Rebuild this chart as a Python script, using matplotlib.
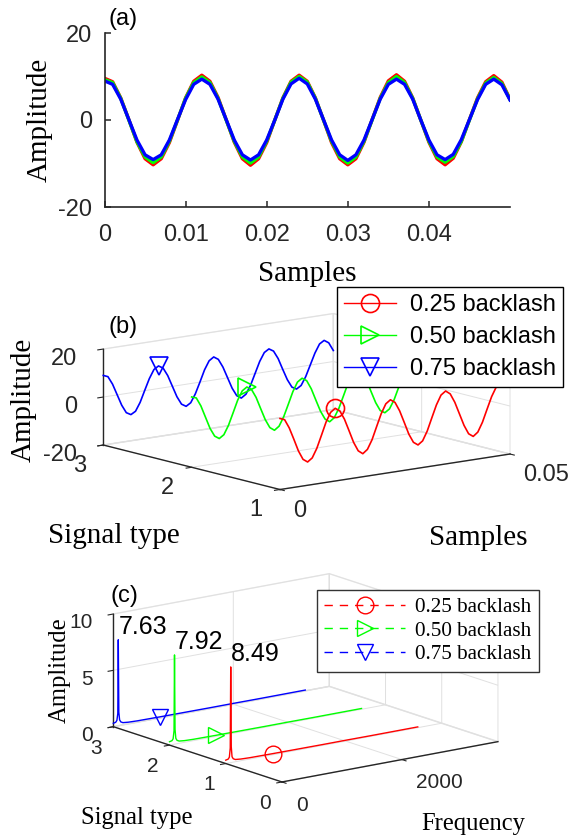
import matplotlib
matplotlib.use("Agg")
import matplotlib.pyplot as plt
from matplotlib.lines import Line2D

plt.rcParams['font.family'] = ['Liberation Sans', 'DejaVu Sans']
plt.rcParams['axes.unicode_minus'] = False

# ===== data =====
samples = [0.000, 0.001, 0.002, 0.003, 0.004, 0.005, 0.006, 0.007, 0.008, 0.009,
           0.010, 0.011, 0.012, 0.013, 0.014, 0.015, 0.016, 0.017, 0.018, 0.019,
           0.020, 0.021, 0.022, 0.023, 0.024, 0.025, 0.026, 0.027, 0.028, 0.029,
           0.030, 0.031, 0.032, 0.033, 0.034, 0.035, 0.036, 0.037, 0.038, 0.039,
           0.040, 0.041, 0.042, 0.043, 0.044, 0.045, 0.046, 0.047, 0.048, 0.049,
           0.050]

amp_025 = [9.6, 8.8, 5.1, 0.1, -5.1, -8.9, -10.3, -8.9, -5.2, -0.1,
           5.1, 8.9, 10.3, 8.9, 5.2, 0.1, -5.1, -8.9, -10.4, -8.9,
           -5.2, 0.0, 5.1, 8.9, 10.3, 8.9, 5.1, 0.0, -5.2, -8.9,
           -10.3, -8.9, -5.1, 0.1, 5.2, 9.0, 10.4, 8.9, 5.1, 0.0,
           -5.1, -8.9, -10.3, -8.8, -5.0, 0.1, 5.1, 8.8, 10.2, 8.7,
           4.8]
amp_050 = [9.3, 8.6, 5.0, 0.0, -5.0, -8.5, -9.8, -8.5, -4.9, 0.0,
           5.0, 8.6, 9.9, 8.6, 5.0, 0.0, -4.9, -8.5, -9.9, -8.5,
           -4.9, 0.0, 5.0, 8.7, 10.0, 8.7, 5.0, 0.0, -4.9, -8.5,
           -9.9, -8.5, -4.9, 0.0, 5.0, 8.6, 10.0, 8.6, 5.0, 0.0,
           -4.9, -8.5, -9.7, -8.4, -4.9, 0.0, 4.9, 8.5, 9.8, 8.4,
           4.7]
amp_075 = [9.0, 8.2, 4.8, 0.1, -4.6, -8.0, -9.1, -8.0, -4.6, 0.1,
           4.7, 8.2, 9.4, 8.2, 4.8, 0.1, -4.6, -8.0, -9.2, -8.0,
           -4.6, 0.0, 4.8, 8.3, 9.6, 8.3, 4.8, 0.1, -4.6, -8.0,
           -9.3, -8.0, -4.6, 0.1, 4.8, 8.2, 9.4, 8.2, 4.8, 0.0,
           -4.6, -8.0, -9.1, -7.9, -4.5, 0.1, 4.7, 8.2, 9.4, 8.1,
           4.6]

freq = [0, 40, 60, 75, 83, 92, 105, 125, 160, 250, 400, 780,
        1200, 1600, 2000, 2400, 2800, 3200]
spec_025 = [0.3, 0.35, 0.5, 1.3, 8.49, 1.4, 0.5, 0.3, 0.2, 0.15, 0.12, 0.1,
            0.09, 0.08, 0.08, 0.07, 0.07, 0.07]
spec_050 = [0.3, 0.35, 0.5, 1.2, 7.92, 1.3, 0.5, 0.3, 0.2, 0.15, 0.12, 0.1,
            0.09, 0.08, 0.08, 0.07, 0.07, 0.07]
spec_075 = [0.3, 0.35, 0.5, 1.1, 7.63, 1.2, 0.5, 0.3, 0.2, 0.15, 0.12, 0.1,
            0.09, 0.08, 0.08, 0.07, 0.07, 0.07]

signal_type = [1, 2, 3]
series = [amp_025, amp_050, amp_075]
spectra = [spec_025, spec_050, spec_075]
names = ['0.25 backlash', '0.50 backlash', '0.75 backlash']
colors = ['#ff0000', '#00ff00', '#0000ff']
markers = ['o', '>', 'v']
mark_idx = 12        # sample carrying the marker in (b)
mark_idx_f = 11      # frequency bin carrying the marker in (c)

W, H = 587, 838
fig = plt.figure(figsize=(W / 100, H / 100), dpi=100)
tick_col = '#262626'
serif = ['Liberation Serif', 'DejaVu Serif']


def px_rect(left, top, width, height):
    return [left / W, 1 - (top + height) / H, width / W, height / H]


def align_ticklabels(axis, ha):
    for tick in axis.get_major_ticks():
        tick.label1.set_horizontalalignment(ha)


# ===== (a) time signals =====
ax_a = fig.add_axes(px_rect(104.5, 33, 405.5, 174))
for y, c in zip(series, colors):
    ax_a.plot(samples, y, color=c, lw=2.4, solid_joinstyle='round')
ax_a.set_xlim(0, 0.05)
ax_a.set_ylim(-20, 20)
ax_a.set_xticks([0, 0.01, 0.02, 0.03, 0.04])
ax_a.set_xticklabels(['0', '0.01', '0.02', '0.03', '0.04'])
ax_a.set_yticks([-20, 0, 20])
for s in ['top', 'right']:
    ax_a.spines[s].set_visible(False)
for s in ['left', 'bottom']:
    ax_a.spines[s].set_linewidth(1.2)
    ax_a.spines[s].set_color(tick_col)
ax_a.tick_params(direction='in', length=4, width=1.1, labelsize=17,
                 colors=tick_col)
ax_a.tick_params(axis='x', pad=12)
ax_a.tick_params(axis='y', pad=9)
ax_a.set_xlabel('Samples', family=serif, fontsize=21, labelpad=11)
ax_a.set_ylabel('Amplitude', family=serif, fontsize=21, labelpad=4)
fig.text(123 / W, 1 - 19 / H, '(a)', fontsize=17, ha='center', va='center')


def style_3d(ax):
    ax.set_proj_type('ortho')
    ax.patch.set_alpha(0)
    for axis in (ax.xaxis, ax.yaxis, ax.zaxis):
        axis.pane.fill = False
        axis.pane.set_edgecolor('#d9d9d9')
        axis.line.set_color(tick_col)
        axis.line.set_linewidth(1.0)
        axis.offsetText.set_visible(False)
        axis.offsetText.set_transform(fig.transFigure)
        axis.offsetText.set_position((0.5, 0.5))
        axis.label.set_visible(False)
        axis._axinfo['grid'].update(color='#e0e0e0', linewidth=0.7)
        axis._axinfo['tick'].update(inward_factor=0.3, outward_factor=0.0)
    ax.tick_params(colors=tick_col)


# ===== (b) waterfall of the time signals =====
ax_b = fig.add_axes(px_rect(96.9, 838 - 226.7 - 408.5, 408.5, 408.5),
                    projection='3d', computed_zorder=False)
style_3d(ax_b)
ax_b.set_box_aspect((292.1, 286.6, 97.9))
ax_b.view_init(elev=11.37, azim=-128.06)
for k in (2, 1, 0):
    ys = [signal_type[k]] * len(samples)
    ax_b.plot(samples, ys, series[k], color=colors[k], lw=1.2)
    ax_b.plot([samples[mark_idx]], [signal_type[k]], [series[k][mark_idx]],
              ls='none', marker=markers[k], ms=13, mfc='none',
              mec=colors[k], mew=1.2)
ax_b.set_xlim(0, 0.05)
ax_b.set_ylim(1, 3)
ax_b.set_zlim(-20, 20)
ax_b.set_xticks([0, 0.05])
ax_b.set_xticklabels(['0', '0.05'])
ax_b.set_yticks([1, 2, 3])
ax_b.set_zticks([-20, 0, 20])
ax_b.tick_params(labelsize=17)
ax_b.xaxis.set_tick_params(pad=3)
ax_b.zaxis.set_tick_params(pad=2)
align_ticklabels(ax_b.xaxis, 'left')
align_ticklabels(ax_b.yaxis, 'right')
align_ticklabels(ax_b.zaxis, 'right')

handles_b = [Line2D([], [], color=c, lw=1.0, marker=m, ms=13, mfc='none',
                    mew=1.2) for c, m in zip(colors, markers)]
leg_b = ax_b.legend(handles_b, names, loc='upper left',
                    bbox_to_anchor=(337 / W, 1 - 287 / H),
                    bbox_transform=fig.transFigure, fontsize=17,
                    handlelength=2.2, handletextpad=0.6, borderpad=0.3,
                    labelspacing=0.42, borderaxespad=0, fancybox=False,
                    framealpha=1, edgecolor='black')
leg_b.get_frame().set_linewidth(1.0)

fig.text(123 / W, 1 - 327 / H, '(b)', fontsize=17, ha='center', va='center')
fig.text(24 / W, 1 - 400 / H, 'Amplitude', family=serif, fontsize=21,
         rotation=90, ha='center', va='center')
fig.text(114 / W, 1 - 536 / H, 'Signal type', family=serif, fontsize=21,
         ha='center', va='center')
fig.text(478 / W, 1 - 538 / H, 'Samples', family=serif, fontsize=21,
         ha='center', va='center')

# ===== (c) spectra =====
ax_c = fig.add_axes(px_rect(103.05, 838 + 42.4 - 394.5, 394.5, 394.5),
                    projection='3d', computed_zorder=False)
style_3d(ax_c)
ax_c.set_box_aspect((270.6, 280.0, 116.3))
ax_c.view_init(elev=14.32, azim=-127.04)
for k in (2, 1, 0):
    ys = [signal_type[k]] * len(freq)
    ax_c.plot(freq, ys, spectra[k], color=colors[k], lw=1.0)
    ax_c.plot([freq[mark_idx_f]], [signal_type[k]], [spectra[k][mark_idx_f]],
              ls='none', marker=markers[k], ms=12, mfc='none',
              mec=colors[k], mew=1.0)
for k in (2, 1, 0):
    peak = max(spectra[k])
    ax_c.text(freq[spectra[k].index(peak)], signal_type[k], peak + 0.1,
              f'{peak:.2f}', fontsize=18, ha='left', va='bottom')
ax_c.set_xlim(0, 3600)
ax_c.set_ylim(0, 3)
ax_c.set_zlim(0, 10)
ax_c.set_xticks([0, 2000])
ax_c.set_yticks([0, 1, 2, 3])
ax_c.set_zticks([0, 5, 10])
ax_c.tick_params(labelsize=15)
ax_c.xaxis.set_tick_params(pad=4)
ax_c.zaxis.set_tick_params(pad=0)
align_ticklabels(ax_c.xaxis, 'left')
align_ticklabels(ax_c.zaxis, 'right')

handles_c = [Line2D([], [], color=c, lw=1.0, ls=(0, (6, 5)), marker=m,
                    ms=12, mfc='none', mew=1.0)
             for c, m in zip(colors, markers)]
leg_c = ax_c.legend(handles_c, names, loc='upper left',
                    bbox_to_anchor=(317 / W, 1 - 590 / H),
                    bbox_transform=fig.transFigure,
                    prop={'family': serif, 'size': 15.2},
                    handlelength=3.8, handletextpad=0.5, borderpad=0.35,
                    labelspacing=0.18, borderaxespad=0, fancybox=False,
                    framealpha=1, edgecolor='#333333')
leg_c.get_frame().set_linewidth(1.0)

fig.text(124 / W, 1 - 596 / H, '(c)', fontsize=17, ha='center', va='center')
fig.text(60 / W, 1 - 670 / H, 'Amplitude', family=serif, fontsize=17.7,
         rotation=90, ha='center', va='center')
fig.text(137 / W, 1 - 818 / H, 'Signal type', family=serif, fontsize=17.7,
         ha='center', va='center')
fig.text(473 / W, 1 - 824 / H, 'Frequency', family=serif, fontsize=17.7,
         ha='center', va='center')

fig.savefig('out.png', dpi=100)
